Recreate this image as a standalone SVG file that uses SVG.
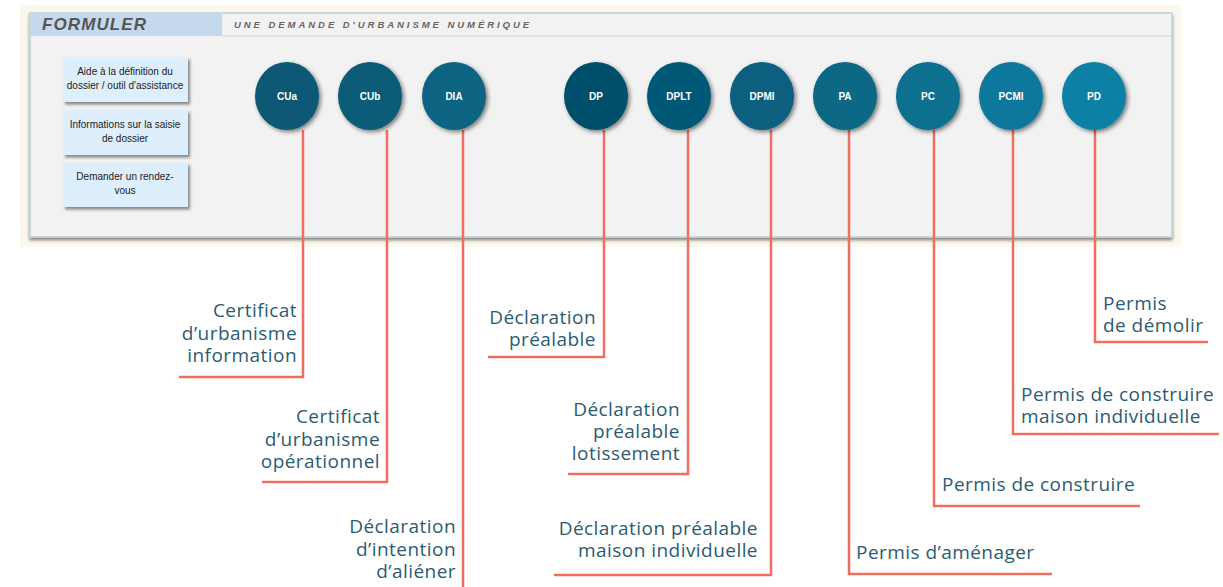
<svg xmlns="http://www.w3.org/2000/svg" width="1223" height="587" viewBox="0 0 1223 587">
<defs>
<style>
.lbl{font-family:"Open Sans","Lato","Liberation Sans",sans-serif;font-size:19px;letter-spacing:0.45px;fill:#2c5b72}
.r{text-anchor:end}
.conn{fill:none;stroke:#ee6f5f;stroke-width:2.5}
.side rect{fill:#ddeefc;filter:url(#sh)}
.side text{font-family:"Liberation Sans",Arial,sans-serif;font-size:10px;fill:#222;text-anchor:middle}
.nd text{font-family:"Liberation Sans",Arial,sans-serif;font-size:10px;font-weight:bold;fill:#fff;text-anchor:middle}
.nd ellipse{filter:url(#sh2)}
</style>
<filter id="sh" x="-20%" y="-20%" width="150%" height="160%"><feDropShadow dx="2" dy="2.5" stdDeviation="1.5" flood-color="#000" flood-opacity="0.45"/></filter>
<filter id="sh2" x="-30%" y="-30%" width="170%" height="170%"><feDropShadow dx="2" dy="2" stdDeviation="2" flood-color="#000" flood-opacity="0.5"/></filter>
<filter id="sh3" x="-5%" y="-10%" width="110%" height="130%"><feDropShadow dx="0" dy="2.5" stdDeviation="1.5" flood-color="#000" flood-opacity="0.45"/></filter>
</defs>
<rect width="1223" height="587" fill="#fff"/>
<rect x="20" y="5" width="1161" height="242" fill="#fbf7ec"/>
<g id="panel">
<rect x="30" y="13" width="1142" height="224" fill="#f2f2f2" stroke="#b9cfe4" stroke-width="1.5" filter="url(#sh3)"/>
<rect x="31" y="14" width="191" height="22" fill="#c5d9ee"/>
<line x1="222" y1="36" x2="1171" y2="36" stroke="#dedede" stroke-width="1.5"/>
<text x="42" y="30" font-family="Liberation Sans,Arial,sans-serif" font-size="17" font-weight="bold" font-style="italic" fill="#555" letter-spacing="1.1">FORMULER</text>
<text x="234" y="28" font-family="Liberation Sans,Arial,sans-serif" font-size="9.5" font-weight="bold" font-style="italic" fill="#666" letter-spacing="2.95">UNE DEMANDE D'URBANISME NUMÉRIQUE</text>
</g>
<g id="side1" class="side"><rect x="63" y="57" width="125" height="45"/><text x="125" y="75">Aide à la définition du</text><text x="125" y="89">dossier / outil d'assistance</text></g>
<g id="side2" class="side"><rect x="63" y="110" width="125" height="45"/><text x="125" y="128">Informations sur la saisie</text><text x="125" y="142">de dossier</text></g>
<g id="side3" class="side"><rect x="63" y="163" width="125" height="44"/><text x="125" y="180">Demander un rendez-</text><text x="125" y="194">vous</text></g>
<g id="connectors">
<polyline class="conn" points="303,130 303,377 179,377"/>
<polyline class="conn" points="387,130 387,482 262,482"/>
<polyline class="conn" points="463,130 463,587"/>
<polyline class="conn" points="604,130 604,357 488,357"/>
<polyline class="conn" points="688,130 688,474 568,474"/>
<polyline class="conn" points="771,130 771,575 554,575"/>
<polyline class="conn" points="849,130 849,574 1052,574"/>
<polyline class="conn" points="934,130 934,506 1140,506"/>
<polyline class="conn" points="1013,130 1013,434 1219,434"/>
<polyline class="conn" points="1095,130 1095,342 1208,342"/>
</g>
<g id="CUa" class="nd"><ellipse cx="287" cy="96" rx="32" ry="34" fill="#0a5874"/><text x="287" y="100">CUa</text></g>
<g id="CUb" class="nd"><ellipse cx="370" cy="96" rx="32" ry="34" fill="#0a5b77"/><text x="370" y="100">CUb</text></g>
<g id="DIA" class="nd"><ellipse cx="454" cy="96" rx="32" ry="34" fill="#0b6482"/><text x="454" y="100">DIA</text></g>
<g id="DP" class="nd"><ellipse cx="596" cy="96" rx="32" ry="34" fill="#03506b"/><text x="596" y="100">DP</text></g>
<g id="DPLT" class="nd"><ellipse cx="679" cy="96" rx="32" ry="34" fill="#065877"/><text x="679" y="100">DPLT</text></g>
<g id="DPMI" class="nd"><ellipse cx="762" cy="96" rx="32" ry="34" fill="#075f7f"/><text x="762" y="100">DPMI</text></g>
<g id="PA" class="nd"><ellipse cx="845" cy="96" rx="32" ry="34" fill="#086786"/><text x="845" y="100">PA</text></g>
<g id="PC" class="nd"><ellipse cx="928" cy="96" rx="32" ry="34" fill="#0a6f8f"/><text x="928" y="100">PC</text></g>
<g id="PCMI" class="nd"><ellipse cx="1011" cy="96" rx="32" ry="34" fill="#0b789b"/><text x="1011" y="100">PCMI</text></g>
<g id="PD" class="nd"><ellipse cx="1094" cy="96" rx="32" ry="34" fill="#0c80a6"/><text x="1094" y="100">PD</text></g>
<g id="labels">
<text class="lbl r" x="297" y="317">Certificat</text><text class="lbl r" x="297" y="340">d’urbanisme</text><text class="lbl r" x="297" y="362">information</text>
<text class="lbl r" x="380" y="423">Certificat</text><text class="lbl r" x="380" y="446">d’urbanisme</text><text class="lbl r" x="380" y="468">opérationnel</text>
<text class="lbl r" x="456" y="533">Déclaration</text><text class="lbl r" x="456" y="556">d’intention</text><text class="lbl r" x="456" y="578">d’aliéner</text>
<text class="lbl r" x="596" y="324">Déclaration</text><text class="lbl r" x="596" y="346">préalable</text>
<text class="lbl r" x="680" y="416">Déclaration</text><text class="lbl r" x="680" y="438">préalable</text><text class="lbl r" x="680" y="460">lotissement</text>
<text class="lbl r" x="758" y="535">Déclaration préalable</text><text class="lbl r" x="758" y="557">maison individuelle</text>
<text class="lbl" x="1103" y="310">Permis</text><text class="lbl" x="1103" y="332">de démolir</text>
<text class="lbl" x="1021" y="401">Permis de construire</text><text class="lbl" x="1021" y="423">maison individuelle</text>
<text class="lbl" x="942" y="491">Permis de construire</text>
<text class="lbl" x="856" y="559">Permis d’aménager</text>
</g>
</svg>
